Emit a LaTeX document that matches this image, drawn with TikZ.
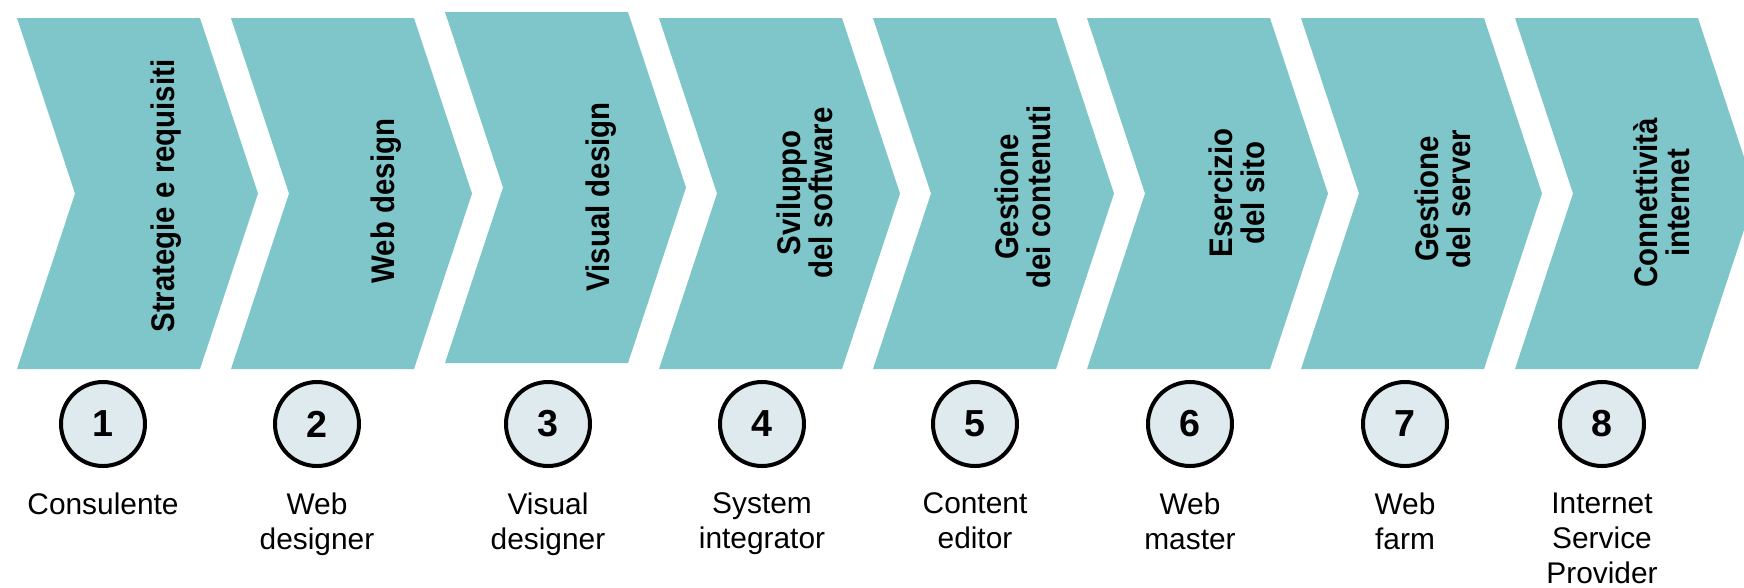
\documentclass[tikz,border=0pt]{standalone}
\usepackage{fontspec}
\setmainfont{Liberation Sans}
\newfontfamily\narrowfont[FakeStretch=0.9]{Liberation Sans}
\usepackage{tikz}
\usetikzlibrary{positioning}
\definecolor{chevblue}{RGB}{126,198,201}
\definecolor{discfill}{RGB}{222,234,238}

\tikzset{
  chevron/.style={fill=chevblue},
  phase/.style={rotate=90, align=center, inner sep=0pt,
    font=\narrowfont\bfseries\fontsize{9.3}{9.1}\selectfont},
  disc/.style={circle, draw=black, line width=0.4mm, fill=discfill,
    minimum size=8.4mm, inner sep=0pt,
    font=\bfseries\fontsize{10.7}{12}\selectfont},
  role/.style={align=center, inner sep=0pt, below=2.4mm of #1,
    font=\fontsize{8.5}{9.96}\selectfont}
}

\begin{document}
\begin{tikzpicture}[x=0.1mm, y=-0.1mm]

\useasboundingbox (0,0) rectangle (1744,587);
\clip (0,0) rectangle (1744,587);

% chevrons
\fill[chevron] (17,18)--++(183,0)--++(58,175.5)--++(-58,175.5)--++(-183,0)--++(58,-175.5)--cycle;
\fill[chevron] (231,18)--++(183,0)--++(58,175.5)--++(-58,175.5)--++(-183,0)--++(58,-175.5)--cycle;
\fill[chevron] (445,12)--++(183,0)--++(58,175.5)--++(-58,175.5)--++(-183,0)--++(58,-175.5)--cycle;
\fill[chevron] (659,18)--++(183,0)--++(58,175.5)--++(-58,175.5)--++(-183,0)--++(58,-175.5)--cycle;
\fill[chevron] (873,18)--++(183,0)--++(58,175.5)--++(-58,175.5)--++(-183,0)--++(58,-175.5)--cycle;
\fill[chevron] (1087,18)--++(183,0)--++(58,175.5)--++(-58,175.5)--++(-183,0)--++(58,-175.5)--cycle;
\fill[chevron] (1301,18)--++(183,0)--++(58,175.5)--++(-58,175.5)--++(-183,0)--++(58,-175.5)--cycle;
\fill[chevron] (1515,18)--++(183,0)--++(58,175.5)--++(-58,175.5)--++(-183,0)--++(58,-175.5)--cycle;

% phase names
\node[phase] (strategie) at (166,196) {Strategie e requisiti};
\node[phase] (webdesign) at (386,201) {Web design};
\node[phase] (visual) at (601,197) {Visual design};
\node[phase] (sviluppo) at (805,193) {Sviluppo\\del software};
\node[phase] (contenuti) at (1023,197) {Gestione\\dei contenuti};
\node[phase] (esercizio) at (1237,193) {Esercizio\\del sito};
\node[phase] (server) at (1443,199) {Gestione\\del server};
\node[phase] (connett) at (1662,203) {Connettività\\internet};

% numbered discs
\node[disc] (n1) at (103,424) {1};
\node[disc] (n2) at (317,424) {2};
\node[disc] (n3) at (548,424) {3};
\node[disc] (n4) at (762,424) {4};
\node[disc] (n5) at (975,424) {5};
\node[disc] (n6) at (1190,424) {6};
\node[disc] (n7) at (1405,424) {7};
\node[disc] (n8) at (1602,424) {8};

% roles
\node[role=n1] (consulente) {Consulente};
\node[role=n2] (webdesigner) {Web\\designer};
\node[role=n3] (visualdesigner) {Visual\\designer};
\node[role=n4] (integrator) {System\\integrator};
\node[role=n5] (editor) {Content\\editor};
\node[role=n6] (webmaster) {Web\\master};
\node[role=n7] (webfarm) {Web\\farm};
\node[role=n8] (isp) {Internet\\Service\\Provider};

\end{tikzpicture}
\end{document}
